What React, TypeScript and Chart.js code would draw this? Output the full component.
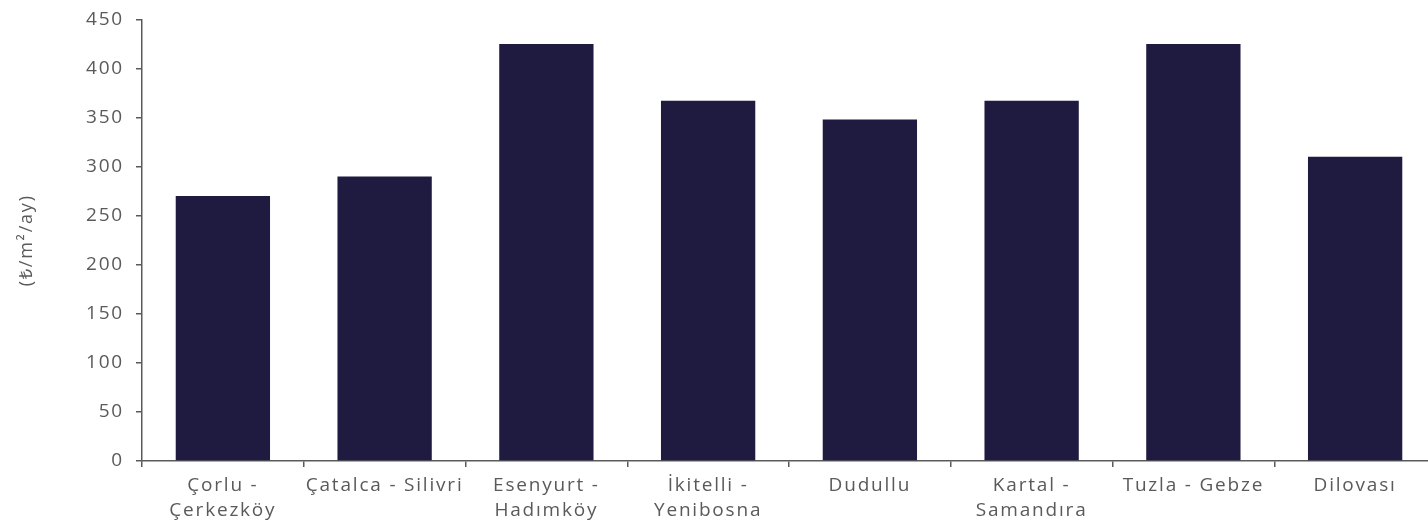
import React, { useEffect, useRef } from "react";
import { Chart, registerables } from "chart.js";

Chart.register(...registerables);

const categories: string[][] = [
  ["Çorlu -", "Çerkezköy"],
  ["Çatalca - Silivri"],
  ["Esenyurt -", "Hadımköy"],
  ["İkitelli -", "Yenibosna"],
  ["Dudullu"],
  ["Kartal -", "Samandıra"],
  ["Tuzla - Gebze"],
  ["Dilovası"],
];
const rentValues: number[] = [270, 290, 425, 367, 348, 367, 425, 310];
const yAxisTitle = "(₺/m²/ay)";
const yMin = 0;
const yMax = 450;
const yStep = 50;

const FONT = "'Open Sans', sans-serif";
const GRAY = "#5a5a5a";

const spacingPlugin = {
  id: "letterSpacing",
  beforeDraw(chart: any) {
    chart.ctx.letterSpacing = "1.8px";
  },
};

export default function App() {
  const ref = useRef<HTMLCanvasElement>(null);
  useEffect(() => {
    if (!ref.current) return;
    const chart = new Chart(ref.current, {
      type: "bar",
      data: {
        labels: categories,
        datasets: [
          {
            data: rentValues,
            backgroundColor: "#1f1a40",
            barPercentage: 0.583,
            categoryPercentage: 1,
          },
        ],
      },
      plugins: [spacingPlugin],
      options: {
        animation: false,
        responsive: false,
        maintainAspectRatio: false,
        layout: { padding: { top: 8, right: 0, left: 0, bottom: 0 } },
        plugins: { legend: { display: false }, tooltip: { enabled: false } },
        scales: {
          x: {
            grid: {
              offset: true,
              drawOnChartArea: false,
              drawTicks: true,
              tickLength: 6,
              color: GRAY,
              lineWidth: 1.5,
            },
            border: { color: GRAY, width: 1.5 },
            ticks: {
              color: GRAY,
              font: { family: FONT, size: 19, lineHeight: 1.27 },
              maxRotation: 0,
              autoSkip: false,
              padding: 7,
            },
            afterFit: (s: any) => {
              s.height = 68;
            },
          },
          y: {
            min: yMin,
            max: yMax,
            grid: {
              drawOnChartArea: false,
              drawTicks: true,
              tickLength: 6,
              color: GRAY,
              lineWidth: 1.5,
            },
            border: { color: GRAY, width: 1.5 },
            ticks: {
              stepSize: yStep,
              color: GRAY,
              font: { family: FONT, size: 19 },
              padding: 12,
            },
            title: {
              display: true,
              text: yAxisTitle,
              color: GRAY,
              font: { family: FONT, size: 18 },
              padding: { top: 16, bottom: 0 },
            },
            afterFit: (s: any) => {
              s.width = 142;
            },
          },
        },
      },
    });
    return () => chart.destroy();
  }, []);
  return (
    <div style={{ position: "fixed", left: 0, top: 0, width: 1428, height: 529, overflow: "hidden", background: "#fff" }}>
      <canvas
        ref={ref}
        width={1436}
        height={533}
        style={{ position: "absolute", left: 0, top: -4, width: 1436, height: 533, display: "block" }}
      />
    </div>
  );
}
